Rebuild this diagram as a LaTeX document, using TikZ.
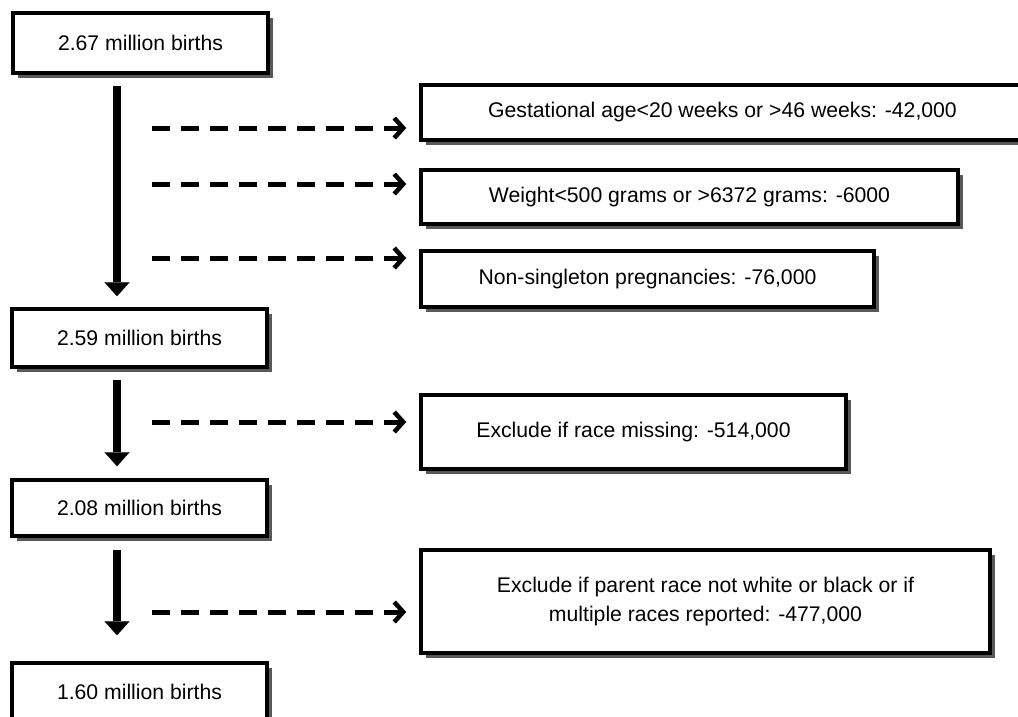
\documentclass[tikz,border=0pt]{standalone}
\usepackage{fontspec}
\setmainfont{Liberation Sans}
\usetikzlibrary{
	arrows.meta,
	shadows
}
\tikzset{
	every node/.style={
		font=\fontsize{21.2pt}{29pt}\selectfont
	},
	stage/.style={
		draw=black, line width=3.5pt, fill=white,
		inner sep=0pt, align=center,
		drop shadow={shadow xshift=4.5pt,shadow yshift=-4.5pt,fill=black!65,opacity=1}
	},
	flow/.style={
		line width=8pt,
		-{Triangle[length=14pt,width=25pt,line width=0.1pt]}
	},
	excluded/.style={
		line width=5pt, dash pattern=on 18pt off 11pt,
		-{Straight Barb[length=9pt,width=20pt,line width=4.5pt]},
		shorten >=13pt
	}
}

\begin{document}
\begin{tikzpicture}[x=1pt,y=-1pt]
		\useasboundingbox (0,0) rectangle (1018,716);
		\draw
			node[stage,minimum width=255pt,minimum height=60pt] (all)  at (140.5,43)  {2.67 million births}
			node[stage,minimum width=603pt,minimum height=55pt] (gest) at (722.5,112.5) {Gestational age<20 weeks or >46 weeks: -42,000}
			node[stage,minimum width=537pt,minimum height=54pt] (wt)   at (689.5,197) {Weight<500 grams or >6372 grams: -6000}
			node[stage,minimum width=453pt,minimum height=56pt] (multi) at (647.5,279) {Non-singleton pregnancies: -76,000}
			node[stage,minimum width=255pt,minimum height=58pt] (single) at (139.5,338) {2.59 million births}
			node[stage,minimum width=425pt,minimum height=74pt] (norace) at (633.5,432) {Exclude if race missing: -514,000}
			node[stage,minimum width=255pt,minimum height=56pt] (raced) at (139.5,508) {2.08 million births}
			node[stage,minimum width=569pt,minimum height=103pt] (other) at (705.5,601.5) {Exclude if parent race not white or black or if\\multiple races reported: -477,000}
			node[stage,minimum width=255pt,minimum height=58pt] (final) at (139.5,692) {1.60 million births}
		;
		% main flow
		\coordinate (col) at (117,0);
		\draw[flow,shorten <=11pt,shorten >=11pt] (all.south -| col) -- (single.north -| col);
		\draw[flow,shorten <=11pt,shorten >=12pt] (single.south -| col) -- (raced.north -| col);
		\draw[flow,shorten <=12pt,shorten >=26pt] (raced.south -| col) -- (final.north -| col);
		% exclusions
		\coordinate (x1) at (152,128);
		\coordinate (x2) at (152,184);
		\coordinate (x3) at (152,258);
		\coordinate (x4) at (152,422);
		\coordinate (x5) at (152,612);
		\draw[excluded] (x1) -- (x1 -| gest.west);
		\draw[excluded] (x2) -- (x2 -| wt.west);
		\draw[excluded] (x3) -- (x3 -| multi.west);
		\draw[excluded] (x4) -- (x4 -| norace.west);
		\draw[excluded] (x5) -- (x5 -| other.west);
	\end{tikzpicture}
\end{document}
